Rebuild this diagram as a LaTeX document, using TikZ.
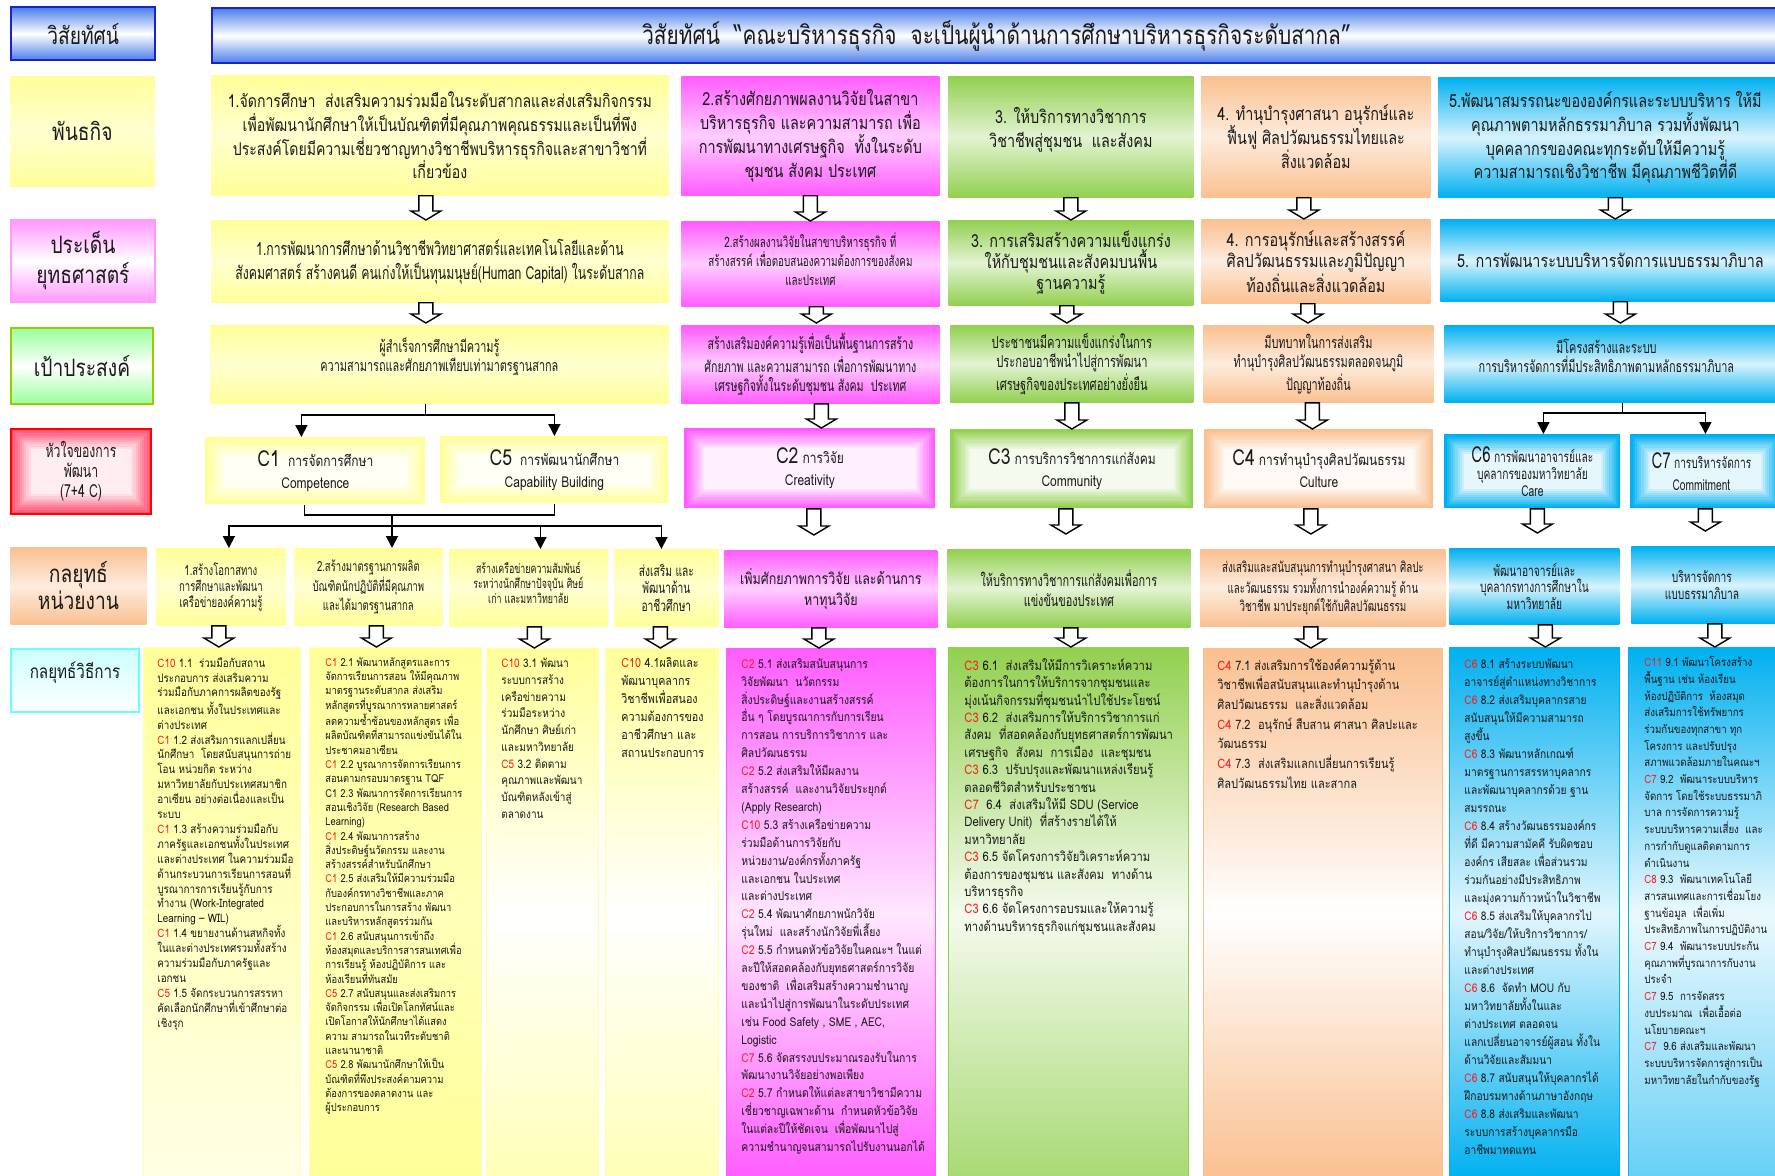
\documentclass[tikz,border=0pt]{standalone}
\usepackage{fontspec}
\setmainfont[Script=Thai]{Loma}
\newfontfamily\thc[Script=Thai,FakeStretch=0.8]{Loma}
\newfontfamily\thcc[Script=Thai,FakeStretch=0.68]{Loma}
\newfontfamily\tht[Script=Thai,FakeStretch=0.85]{Loma}
\usetikzlibrary{calc,arrows.meta}
\definecolor{cY}{HTML}{FFFF99}
\definecolor{cM}{HTML}{FF5CFF}
\definecolor{cG}{HTML}{92D050}
\definecolor{cO}{HTML}{FAC090}
\definecolor{cB}{HTML}{00B0F0}
\definecolor{vB}{HTML}{4A7FEA}
\definecolor{vBd}{HTML}{1A22CC}
\definecolor{txt}{HTML}{1A1A1A}
\definecolor{cRed}{HTML}{FF1A1A}
\definecolor{cRd}{HTML}{FF4F70}
\definecolor{cPk}{HTML}{FF99FF}
\definecolor{cLG}{HTML}{99FF99}
\definecolor{cLGd}{HTML}{99CC00}
\definecolor{cCy}{HTML}{CCFFFF}
\definecolor{cCyd}{HTML}{66FFFF}
\newcommand\fs[2]{\fontsize{#1}{#2}\selectfont}
\newcommand\cc[1]{\textcolor{cRed}{#1}}
\newcommand\bx[8]{\node[boxs,#6,minimum width={(#4-#2)*0.5pt},minimum height={(#5-#3)*0.5pt}] (#1) at (#2,#3) {};
  \node[btxt,#7] (#1t) at (#1.center) {#8};}
\tikzset{
  boxs/.style={anchor=north west, inner sep=0pt},
  btxt/.style={align=center, text=txt, inner sep=0pt},
  yel/.style={top color=cY, bottom color=cY, middle color=cY!45!white},
  mag/.style={top color=cM, bottom color=cM, middle color=cM!30!white},
  grn/.style={top color=cG, bottom color=cG, middle color=cG!25!white},
  org/.style={top color=cO, bottom color=cO, middle color=cO!30!white},
  blu/.style={top color=cB, bottom color=cB, middle color=cB!15!white},
  vis/.style={top color=vB, bottom color=vB, middle color=white},
  ring/.style={fill=#1, path picture={\foreach \i in {1,...,9}{\pgfmathtruncatemacro\rpct{100-\i*10}\fill[#1!\rpct!white] ([shift={(\i*1.1pt,-\i*1.1pt)}]path picture bounding box.north west) rectangle ([shift={(-\i*1.1pt,\i*1.1pt)}]path picture bounding box.south east);}}},
  hol/.style={draw=black, fill=white, line width=0.7pt, line join=miter, to path={let \p1=(\tikztostart), \p2=(\tikztotarget) in (\x1-3.5pt,\y1) -- (\x1-3.5pt,\y2+4.5pt) -- (\x1-7.5pt,\y2+4.5pt) -- (\x1,\y2) -- (\x1+7.5pt,\y2+4.5pt) -- (\x1+3.5pt,\y2+4.5pt) -- (\x1+3.5pt,\y1) -- cycle}},
  tline/.style={draw=black, line width=0.9pt},
  tarrow/.style={tline, -{Triangle[length=6pt,width=6pt]}},
  coltext/.style={anchor=north west, align=left, inner sep=0pt, text=txt}
}
\begin{document}
\begin{tikzpicture}[x=0.5pt,y=-0.5pt]
\useasboundingbox (0,0) rectangle (1775,1176);
% ---------- vision
\bx{L0}{10}{6}{154}{59}{vis, draw=vBd, line width=1.2pt}{font=\thc\fs{12}{14}}{วิสัยทัศน์}
\bx{V}{211}{7}{1780}{62}{vis, draw=vBd, line width=1.2pt}{font=\thc\fs{13}{15}}{วิสัยทัศน์\ \ “คณะบริหารธุรกิจ\ \ จะเป็นผู้นำด้านการศึกษาบริหารธุรกิจระดับสากล”}
% ---------- mission
\bx{L1}{10}{76}{154}{186}{yel}{font=\thc\fs{12}{14}}{พันธกิจ}
\bx{M1}{211}{75}{668}{195}{yel}{font=\thc\fs{8.8}{11.9}}{1.จัดการศึกษา\ \ ส่งเสริมความร่วมมือในระดับสากลและส่งเสริมกิจกรรม\\เพื่อพัฒนานักศึกษาให้เป็นบัณฑิตที่มีคุณภาพคุณธรรมและเป็นที่พึง\\ประสงค์โดยมีความเชี่ยวชาญทางวิชาชีพบริหารธุรกิจและสาขาวิชาที่\\เกี่ยวข้อง}
\bx{M2}{681}{76}{939}{195}{mag}{font=\thc\fs{9}{11.9}}{2.สร้างศักยภาพผลงานวิจัยในสาขา\\บริหารธุรกิจ และความสามารถ เพื่อ\\การพัฒนาทางเศรษฐกิจ\ \ ทั้งในระดับ\\ชุมชน สังคม ประเทศ}
\bx{M3}{948}{76}{1193}{197}{grn}{font=\thc\fs{9}{11.9}, yshift=3.5pt}{3. ให้บริการทางวิชาการ\\วิชาชีพสู่ชุมชน\ \ และสังคม}
\bx{M4}{1201}{76}{1430}{197}{org}{font=\thc\fs{9}{11.9}}{4. ทำนุบำรุงศาสนา อนุรักษ์และ\\ฟื้นฟู ศิลปวัฒนธรรมไทยและ\\สิ่งแวดล้อม}
\bx{M5}{1438}{77}{1780}{197}{blu}{font=\thc\fs{9}{11.9}, xshift=-2pt}{5.พัฒนาสมรรถนะขององค์กรและระบบบริหาร ให้มี\\คุณภาพตามหลักธรรมาภิบาล รวมทั้งพัฒนา\\บุคคลากรของคณะทุกระดับให้มีความรู้\\ความสามารถเชิงวิชาชีพ มีคุณภาพชีวิตที่ดี}
% ---------- strategic issues
\bx{L2}{10}{219}{154}{301}{top color=cPk, bottom color=cPk, middle color=white, draw=cPk, line width=1pt}{font=\thc\fs{12}{15}}{ประเด็น\\ยุทธศาสตร์}
\bx{S1}{211}{220}{668}{302}{yel}{font=\thcc\fs{9}{12}}{1.การพัฒนาการศึกษาด้านวิชาชีพวิทยาศาสตร์และเทคโนโลยีและด้าน\\สังคมศาสตร์ สร้างคนดี คนเก่งให้เป็นทุนมนุษย์(Human Capital) ในระดับสากล}
\bx{S2}{681}{221}{939}{306}{mag}{font=\thcc\fs{7.2}{9.5}, yshift=2.5pt}{2.สร้างผลงานวิจัยในสาขาบริหารธุรกิจ ที่\\สร้างสรรค์ เพื่อตอบสนองความต้องการของสังคม\\และประเทศ}
\bx{S3}{948}{220}{1193}{305}{grn}{font=\thc\fs{9}{10.5}}{3. การเสริมสร้างความแข็งแกร่ง\\ให้กับชุมชนและสังคมบนพื้น\\ฐานความรู้}
\bx{S4}{1201}{219}{1430}{303}{org}{font=\thc\fs{9}{10.5}}{4. การอนุรักษ์และสร้างสรรค์\\ศิลปวัฒนธรรมและภูมิปัญญา\\ท้องถิ่นและสิ่งแวดล้อม}
\bx{S5}{1440}{219}{1780}{301}{blu}{font=\thc\fs{9}{11}}{5. การพัฒนาระบบบริหารจัดการแบบธรรมาภิบาล}
% ---------- goals
\bx{L3}{10}{327}{152}{403}{top color=cLG, bottom color=cLG, middle color=white, draw=cLGd, line width=1pt}{font=\thc\fs{12}{14}}{เป้าประสงค์}
\bx{G1}{210}{325}{668}{403}{yel}{font=\thcc\fs{8}{9.7}, yshift=4pt}{ผู้สำเร็จการศึกษามีความรู้\\ความสามารถและศักยภาพเทียบเท่ามาตรฐานสากล}
\bx{G2}{681}{325}{939}{403}{mag}{font=\thcc\fs{7.8}{9.6}}{สร้างเสริมองค์ความรู้เพื่อเป็นพื้นฐานการสร้าง\\ศักยภาพ และความสามารถ เพื่อการพัฒนาทาง\\เศรษฐกิจทั้งในระดับชุมชน สังคม\ \ ประเทศ}
\bx{G3}{950}{325}{1193}{402}{grn}{font=\thcc\fs{8.2}{9.6}}{ประชาชนมีความแข็งแกร่งในการ\\ประกอบอาชีพนำไปสู่การพัฒนา\\เศรษฐกิจของประเทศอย่างยั่งยืน}
\bx{G4}{1203}{325}{1433}{402}{org}{font=\thcc\fs{8}{9.6}}{มีบทบาทในการส่งเสริม\\ทำนุบำรุงศิลปวัฒนธรรมตลอดจนภูมิ\\ปัญญาท้องถิ่น}
\bx{G5}{1444}{325}{1780}{402}{blu}{font=\thcc\fs{8}{9.6}, yshift=4pt, xshift=-3pt}{มีโครงสร้างและระบบ\\การบริหารจัดการที่มีประสิทธิภาพตามหลักธรรมาภิบาล}
% ---------- core
\bx{L4}{10}{428}{150}{513}{ring=cRd, draw=red, line width=1pt}{font=\thcc\fs{9}{10}}{หัวใจของการ\\พัฒนา\\(7+4 C)}
\bx{C1}{205}{437}{425}{504}{ring=cY}{font=\thc\fs{7.5}{11}}{{\fs{11}{11}C1}\ \ การจัดการศึกษา\\Competence}
\bx{C5}{440}{436}{668}{503}{ring=cY}{font=\thc\fs{7.5}{11}}{{\fs{11}{11}C5}\ \ การพัฒนานักศึกษา\\Capability Building}
\bx{C2}{684}{428}{935}{508}{ring=cM}{font=\thc\fs{7.5}{11}}{{\fs{11}{11}C2} การวิจัย\\Creativity}
\bx{C3}{950}{429}{1193}{508}{ring=cG}{font=\thc\fs{7.5}{11}}{{\fs{11}{11}C3} การบริการวิชาการแก่สังคม\\Community}
\bx{C4}{1204}{429}{1433}{508}{ring=cO}{font=\thc\fs{7.5}{11}}{{\fs{11}{11}C4} การทำนุบำรุงศิลปวัฒนธรรม\\Culture}
\bx{C6}{1444}{434}{1620}{508}{ring=cB}{font=\thcc\fs{7.5}{8.5}}{{\fs{11}{11}C6} การพัฒนาอาจารย์และ\\บุคลากรของมหาวิทยาลัย\\Care}
\bx{C7}{1630}{434}{1780}{508}{ring=cB}{font=\thcc\fs{7.5}{11}, xshift=-2pt}{{\fs{11}{11}C7} การบริหารจัดการ\\Commitment}
% ---------- unit strategies
\bx{L5}{10}{547}{146}{624}{org}{font=\thc\fs{12}{12}}{กลยุทธ์\\หน่วยงาน}
\bx{U1}{156}{548}{285}{625}{yel}{font=\thcc\fs{7}{8}}{1.สร้างโอกาสทาง\\การศึกษาและพัฒนา\\เครือข่ายองค์ความรู้}
\bx{U2}{294}{548}{442}{625}{yel}{font=\thcc\fs{7}{8}}{2.สร้างมาตรฐานการผลิต\\บัณฑิตนักปฏิบัติที่มีคุณภาพ\\และได้มาตรฐานสากล}
\bx{U3}{449}{549}{607}{626}{yel}{font=\thcc\fs{6.5}{7.5}, yshift=2.5pt}{สร้างเครือข่ายความสัมพันธ์\\ระหว่างนักศึกษาปัจจุบัน ศิษย์\\เก่า และมหาวิทยาลัย}
\bx{U4}{614}{549}{718}{626}{yel}{font=\thcc\fs{7.5}{8.6}}{ส่งเสริม และ\\พัฒนาด้าน\\อาชีวศึกษา}
\bx{U5}{724}{550}{937}{627}{mag}{font=\thc\fs{7.8}{10.5}}{เพิ่มศักยภาพการวิจัย และด้านการ\\หาทุนวิจัย}
\bx{U6}{947}{549}{1190}{627}{grn}{font=\thcc\fs{8}{10}}{ให้บริการทางวิชาการแก่สังคมเพื่อการ\\แข่งขันของประเทศ}
\bx{U7}{1200}{549}{1445}{626}{org}{font=\thcc\fs{7.2}{8.3}}{ส่งเสริมและสนับสนุนการทำนุบำรุงศาสนา ศิลปะ\\และวัฒนธรรม รวมทั้งการนำองค์ความรู้ ด้าน\\วิชาชีพ มาประยุกต์ใช้กับศิลปวัฒนธรรม}
\bx{U8}{1449}{548}{1619}{624}{blu}{font=\thcc\fs{7.5}{8.4}}{พัฒนาอาจารย์และ\\บุคลากรทางการศึกษาใน\\มหาวิทยาลัย}
\bx{U9}{1631}{546}{1780}{623}{blu}{font=\thcc\fs{7.5}{8.5}, xshift=-2pt}{บริหารจัดการ\\แบบธรรมาภิบาล}
% ---------- method columns
\bx{L6}{10}{648}{138}{711}{top color=cCy, bottom color=white, draw=cCyd, line width=1pt}{font=\thc\fs{9.5}{12}, yshift=4pt}{กลยุทธ์วิธีการ}
\bx{K1}{143}{647}{300}{1180}{top color=cY, bottom color=cY!25!white, draw=cY!70!white}{}{}
\bx{K2}{309}{647}{481}{1180}{top color=cY, bottom color=cY, middle color=cY!70!white, draw=cY!70!white}{}{}
\bx{K3}{486}{648}{598}{1180}{top color=cY, bottom color=cY!70!white, middle color=white, draw=cY!80!white}{}{}
\bx{K4}{605}{648}{718}{1180}{top color=cY, bottom color=cY!70!white, middle color=white, draw=cY!80!white}{}{}
\bx{K5}{726}{648}{935}{1180}{top color=cM, bottom color=cM, middle color=cM!15!white, draw=cM}{}{}
\bx{K6}{948}{647}{1188}{1180}{top color=cG, bottom color=cG!80!white, middle color=cG!10!white, draw=cG}{}{}
\bx{K7}{1203}{648}{1442}{1180}{top color=cO, bottom color=cO, middle color=white, draw=cO}{}{}
\bx{K8}{1449}{647}{1619}{1180}{top color=cB, bottom color=cB, middle color=cB!12!white, draw=cB}{}{}
\bx{K9}{1628}{647}{1780}{1180}{top color=cB, bottom color=cB!60!white, middle color=cB!8!white, draw=cB}{}{}
% column texts
\node[coltext, font=\tht\fs{5.8}{7.45}] (T1) at (157,657) {\cc{C10} 1.1\ \ ร่วมมือกับสถาน\\ประกอบการ ส่งเสริมความ\\ร่วมมือกับภาคการผลิตของรัฐ\\และเอกชน ทั้งในประเทศและ\\ต่างประเทศ\\
\cc{C1} 1.2 ส่งเสริมการแลกเปลี่ยน\\นักศึกษา\ \ โดยสนับสนุนการถ่าย\\โอน หน่วยกิต ระหว่าง\\มหาวิทยาลัยกับประเทศสมาชิก\\อาเซียน อย่างต่อเนื่องและเป็น\\ระบบ\\
\cc{C1} 1.3 สร้างความร่วมมือกับ\\ภาครัฐและเอกชนทั้งในประเทศ\\และต่างประเทศ ในความร่วมมือ\\ด้านกระบวนการเรียนการสอนที่\\บูรณาการการเรียนรู้กับการ\\ทำงาน (Work-Integrated\\Learning – WIL)\\
\cc{C1} 1.4 ขยายงานด้านสหกิจทั้ง\\ในและต่างประเทศรวมทั้งสร้าง\\ความร่วมมือกับภาครัฐและ\\เอกชน\\
\cc{C5} 1.5 จัดกระบวนการสรรหา\\คัดเลือกนักศึกษาที่เข้าศึกษาต่อ\\เชิงรุก};
\node[coltext, font=\tht\fs{5.5}{7.15}] (T2) at (325,657) {\cc{C1} 2.1 พัฒนาหลักสูตรและการ\\จัดการเรียนการสอน ให้มีคุณภาพ\\มาตรฐานระดับสากล ส่งเสริม\\หลักสูตรที่บูรณาการหลายศาสตร์\\ลดความซ้ำซ้อนของหลักสูตร เพื่อ\\ผลิตบัณฑิตที่สามารถแข่งขันได้ใน\\ประชาคมอาเซียน\\
\cc{C1} 2.2 บูรณาการจัดการเรียนการ\\สอนตามกรอบมาตรฐาน TQF\\
C1 2.3 พัฒนาการจัดการเรียนการ\\สอนเชิงวิจัย (Research Based\\Learning)\\
\cc{C1} 2.4 พัฒนาการสร้าง\\สิ่งประดิษฐ์นวัตกรรม และงาน\\สร้างสรรค์สำหรับนักศึกษา\\
\cc{C1} 2.5 ส่งเสริมให้มีความร่วมมือ\\กับองค์กรทางวิชาชีพและภาค\\ประกอบการในการสร้าง พัฒนา\\และบริหารหลักสูตรร่วมกัน\\
\cc{C1} 2.6 สนับสนุนการเข้าถึง\\ห้องสมุดและบริการสารสนเทศเพื่อ\\การเรียนรู้ ห้องปฏิบัติการ และ\\ห้องเรียนที่ทันสมัย\\
\cc{C5} 2.7 สนับสนุนและส่งเสริมการ\\จัดกิจกรรม เพื่อเปิดโลกทัศน์และ\\เปิดโอกาสให้นักศึกษาได้แสดง\\ความ สามารถในเวทีระดับชาติ\\และนานาชาติ\\
\cc{C5} 2.8 พัฒนานักศึกษาให้เป็น\\บัณฑิตที่พึงประสงค์ตามความ\\ต้องการของตลาดงาน และ\\ผู้ประกอบการ};
\node[coltext, font=\tht\fs{5.9}{8.35}] (T3) at (501,658) {\cc{C10} 3.1 พัฒนา\\ระบบการสร้าง\\เครือข่ายความ\\ร่วมมือระหว่าง\\นักศึกษา ศิษย์เก่า\\และมหาวิทยาลัย\\
\cc{C5} 3.2 ติดตาม\\คุณภาพและพัฒนา\\บัณฑิตหลังเข้าสู่\\ตลาดงาน};
\node[coltext, font=\tht\fs{6.3}{9}] (T4) at (621,657) {\cc{C10} 4.1ผลิตและ\\พัฒนาบุคลากร\\วิชาชีพเพื่อสนอง\\ความต้องการของ\\อาชีวศึกษา และ\\สถานประกอบการ};
\node[coltext, font=\tht\fs{6.1}{8.95}] (T5) at (741,658) {\cc{C2} 5.1 ส่งเสริมสนับสนุนการ\\วิจัยพัฒนา\ \ นวัตกรรม\\สิ่งประดิษฐ์และงานสร้างสรรค์\\อื่น ๆ โดยบูรณาการกับการเรียน\\การสอน การบริการวิชาการ และ\\ศิลปวัฒนธรรม\\
\cc{C2} 5.2 ส่งเสริมให้มีผลงาน\\สร้างสรรค์\ \ และงานวิจัยประยุกต์\\(Apply Research)\\
\cc{C10} 5.3 สร้างเครือข่ายความ\\ร่วมมือด้านการวิจัยกับ\\หน่วยงาน/องค์กรทั้งภาครัฐ\\และเอกชน ในประเทศ\\และต่างประเทศ\\
\cc{C2} 5.4 พัฒนาศักยภาพนักวิจัย\\รุ่นใหม่\ \ และสร้างนักวิจัยพี่เลี้ยง\\
\cc{C2} 5.5 กำหนดหัวข้อวิจัยในคณะฯ ในแต่\\ละปีให้สอดคล้องกับยุทธศาสตร์การวิจัย\\ของชาติ\ \ เพื่อเสริมสร้างความชำนาญ\\และนำไปสู่การพัฒนาในระดับประเทศ\\เช่น Food Safety , SME , AEC,\\Logistic\\
\cc{C7} 5.6 จัดสรรงบประมาณรองรับในการ\\พัฒนางานวิจัยอย่างพอเพียง\\
\cc{C2} 5.7 กำหนดให้แต่ละสาขาวิชามีความ\\เชี่ยวชาญเฉพาะด้าน\ \ กำหนดหัวข้อวิจัย\\ในแต่ละปีให้ชัดเจน\ \ เพื่อพัฒนาไปสู่\\ความชำนาญจนสามารถไปรับงานนอกได้};
\node[coltext, font=\tht\fs{6.6}{8.7}] (T6) at (964,658) {\cc{C3} 6.1\ \ ส่งเสริมให้มีการวิเคราะห์ความ\\ต้องการในการให้บริการจากชุมชนและ\\มุ่งเน้นกิจกรรมที่ชุมชนนำไปใช้ประโยชน์\\
\cc{C3} 6.2\ \ ส่งเสริมการให้บริการวิชาการแก่\\สังคม\ \ ที่สอดคล้องกับยุทธศาสตร์การพัฒนา\\เศรษฐกิจ\ \ สังคม\ \ การเมือง\ \ และชุมชน\\
\cc{C3} 6.3\ \ ปรับปรุงและพัฒนาแหล่งเรียนรู้\\ตลอดชีวิตสำหรับประชาชน\\
\cc{C7}\ \ 6.4\ \ ส่งเสริมให้มี SDU (Service\\Delivery Unit)\ \ ที่สร้างรายได้ให้\\มหาวิทยาลัย\\
\cc{C3} 6.5 จัดโครงการวิจัยวิเคราะห์ความ\\ต้องการของชุมชน และสังคม\ \ ทางด้าน\\บริหารธุรกิจ\\
\cc{C3} 6.6 จัดโครงการอบรมและให้ความรู้\\ทางด้านบริหารธุรกิจแก่ชุมชนและสังคม};
\node[coltext, font=\tht\fs{6.5}{9.85}] (T7) at (1217,658) {\cc{C4} 7.1 ส่งเสริมการใช้องค์ความรู้ด้าน\\วิชาชีพเพื่อสนับสนุนและทำนุบำรุงด้าน\\ศิลปวัฒนธรรม\ \ และสิ่งแวดล้อม\\
\cc{C4} 7.2\ \ อนุรักษ์ สืบสาน ศาสนา ศิลปะและ\\วัฒนธรรม\\
\cc{C4} 7.3\ \ ส่งเสริมแลกเปลี่ยนการเรียนรู้\\ศิลปวัฒนธรรมไทย และสากล};
\node[coltext, font=\tht\fs{6}{9}] (T8) at (1464,658) {\cc{C6} 8.1 สร้างระบบพัฒนา\\อาจารย์สู่ตำแหน่งทางวิชาการ\\
\cc{C6} 8.2 ส่งเสริมบุคลากรสาย\\สนับสนุนให้มีความสามารถ\\สูงขึ้น\\
\cc{C6} 8.3 พัฒนาหลักเกณฑ์\\มาตรฐานการสรรหาบุคลากร\\และพัฒนาบุคลากรด้วย ฐาน\\สมรรถนะ\\
\cc{C6} 8.4 สร้างวัฒนธรรมองค์กร\\ที่ดี มีความสามัคคี รับผิดชอบ\\องค์กร เสียสละ เพื่อส่วนรวม\\ร่วมกันอย่างมีประสิทธิภาพ\\และมุ่งความก้าวหน้าในวิชาชีพ\\
\cc{C6} 8.5 ส่งเสริมให้บุคลากรไป\\สอน/วิจัย/ให้บริการวิชาการ/\\ทำนุบำรุงศิลปวัฒนธรรม ทั้งใน\\และต่างประเทศ\\
\cc{C6} 8.6\ \ จัดทำ MOU กับ\\มหาวิทยาลัยทั้งในและ\\ต่างประเทศ ตลอดจน\\แลกเปลี่ยนอาจารย์ผู้สอน ทั้งใน\\ด้านวิจัยและสัมมนา\\
\cc{C6} 8.7 สนับสนุนให้บุคลากรได้\\ฝึกอบรมทางด้านภาษาอังกฤษ\\
\cc{C6} 8.8 ส่งเสริมและพัฒนา\\ระบบการสร้างบุคลากรมือ\\อาชีพมาทดแทน};
\node[coltext, font=\tht\fs{5.7}{8.35}] (T9) at (1644,656) {\cc{C11} 9.1 พัฒนาโครงสร้าง\\พื้นฐาน เช่น ห้องเรียน\\ห้องปฏิบัติการ\ \ ห้องสมุด\\ส่งเสริมการใช้ทรัพยากร\\ร่วมกันของทุกสาขา ทุก\\โครงการ และปรับปรุง\\สภาพแวดล้อมภายในคณะฯ\\
\cc{C7} 9.2\ \ พัฒนาระบบบริหาร\\จัดการ โดยใช้ระบบธรรมาภิ\\บาล การจัดการความรู้\\ระบบบริหารความเสี่ยง\ \ และ\\การกำกับดูแลติดตามการ\\ดำเนินงาน\\
\cc{C8} 9.3\ \ พัฒนาเทคโนโลยี\\สารสนเทศและการเชื่อมโยง\\ฐานข้อมูล\ \ เพื่อเพิ่ม\\ประสิทธิภาพในการปฏิบัติงาน\\
\cc{C7} 9.4\ \ พัฒนาระบบประกัน\\คุณภาพที่บูรณาการกับงาน\\ประจำ\\
\cc{C7} 9.5\ \ การจัดสรร\\งบประมาณ\ \ เพื่อเอื้อต่อ\\นโยบายคณะฯ\\
\cc{C7}\ \ 9.6 ส่งเสริมและพัฒนา\\ระบบบริหารจัดการสู่การเป็น\\มหาวิทยาลัยในกำกับของรัฐ};
% ---------- hollow arrows
\draw[hol] ([xshift=-7pt]M1.south) to ([xshift=-7pt]S1.north);
\draw[hol] (M2.south) to (S2.north);
\draw[hol] (M3.south) to (S3.north);
\draw[hol] ([xshift=-6pt]M4.south) to ([xshift=-6pt]S4.north);
\draw[hol] ([xshift=3pt]M5.south) to ([xshift=3pt]S5.north);
\draw[hol] ([xshift=-7pt]S1.south) to ([xshift=-7pt,yshift=1pt]G1.north);
\draw[hol] ([xshift=3pt]S2.south) to ([xshift=3pt,yshift=1pt]G2.north);
\draw[hol] ([xshift=-2pt]S3.south) to ([xshift=-2pt,yshift=1pt]G3.north);
\draw[hol] ([xshift=-4pt]S4.south) to ([xshift=-4pt,yshift=1pt]G4.north);
\draw[hol] ([xshift=5pt]S5.south) to ([xshift=5pt,yshift=1pt]G5.north);
\draw[hol] ([xshift=5.5pt]G2.south) to ([xshift=5.5pt]C2.north);
\draw[hol] (G3.south) to (C3.north);
\draw[hol] ([xshift=-3pt]G4.south) to ([xshift=-3pt]C4.north);
\draw[hol] ([xshift=2pt]C2.south) to ([xshift=2pt,yshift=7.5pt]U5.north);
\draw[hol] ([xshift=-3pt]C3.south) to ([xshift=-3pt,yshift=7.5pt]U6.north);
\draw[hol] ([xshift=-4pt]C4.south) to ([xshift=-4pt,yshift=7.5pt]U7.north);
\draw[hol] ([xshift=2.5pt]C6.south) to ([xshift=2.5pt,yshift=7.5pt]U8.north);
\draw[hol] (C7.south) to ([yshift=7.5pt]C7.south |- U9.north);
\draw[hol] ([xshift=-1pt]U1.south) to ([xshift=-1pt]U1.south |- K1.north);
\draw[hol] ([xshift=4pt]U2.south) to ([xshift=4pt]U2.south |- K2.north);
\draw[hol] ([xshift=3pt]U3.south) to ([xshift=3pt]U3.south |- K3.north);
\draw[hol] ([xshift=-3pt]U4.south) to ([xshift=-3pt]U4.south |- K4.north);
\draw[hol] ([xshift=-6pt]U5.south) to ([xshift=-6pt]U5.south |- K5.north);
\draw[hol] ([xshift=1pt]U6.south) to ([xshift=1pt]U6.south |- K6.north);
\draw[hol] ([xshift=-6pt]U7.south) to ([xshift=-6pt]U7.south |- K7.north);
\draw[hol] ([xshift=5.5pt]U8.south) to ([xshift=5.5pt]U8.south |- K8.north);
\draw[hol] ([xshift=4.5pt]U9.south) to ([xshift=4.5pt]U9.south |- K9.north);
% ---------- tree connectors
\draw[tarrow] ([xshift=-7pt]G1.south) -- ++(0,-5.5pt) -| ([xshift=-7pt]C1.north);
\draw[tarrow] ([xshift=-7pt]G1.south) -- ++(0,-5.5pt) -| (C5.north);
\coordinate (j2) at (392,515);
\coordinate (j3) at (392,526);
\draw[tline] ([xshift=-5.5pt]C1.south) |- (j2);
\draw[tline] (C5.south) |- (j2);
\draw[tline] (j2) -- (j3);
\draw[tarrow] (j3) -| ([xshift=4pt]U1.north);
\draw[tarrow] (j3) -- (j3 |- U2.north);
\draw[tarrow] (j3) -| ([xshift=6pt]U3.north);
\draw[tarrow] (j3) -| ([xshift=-2.5pt]U4.north);
\draw[tarrow] ([xshift=5pt]G5.south) -- ++(0,-5pt) -| ([xshift=5.5pt]C6.north);
\draw[tarrow] ([xshift=5pt]G5.south) -- ++(0,-5pt) -| (C7.north);
\end{tikzpicture}
\end{document}
